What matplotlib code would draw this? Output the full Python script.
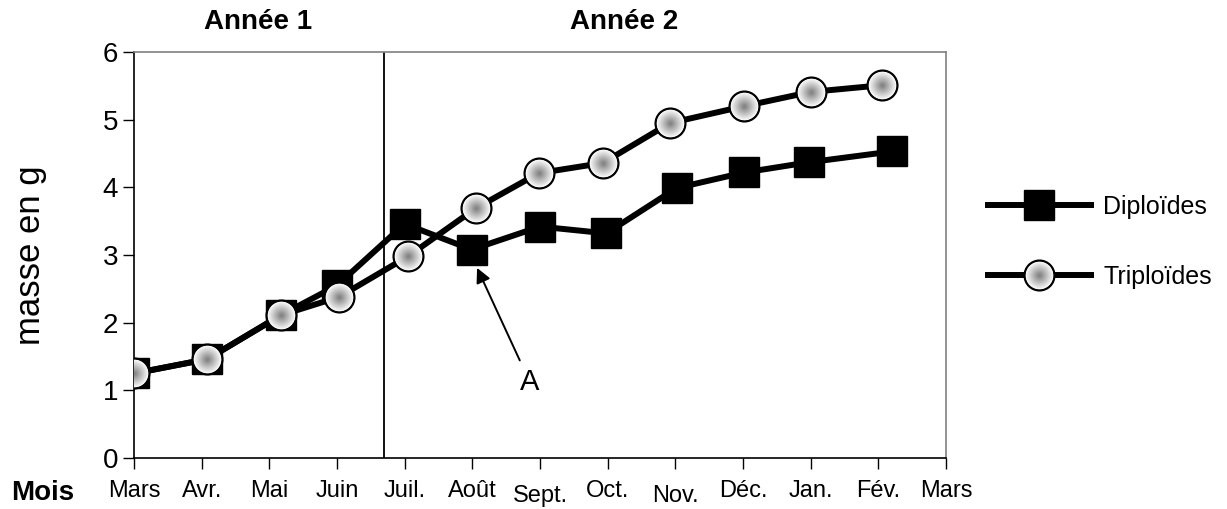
import numpy as np
import matplotlib
matplotlib.use("Agg")
import matplotlib.pyplot as plt
from matplotlib.legend_handler import HandlerTuple

plt.rcParams['font.family'] = ['Liberation Sans', 'DejaVu Sans']

# months on the x axis (tick positions 0..12)
mois = ['Mars', 'Avr.', 'Mai', 'Juin', 'Juil.', 'Août', 'Sept.', 'Oct.',
        'Nov.', 'Déc.', 'Jan.', 'Fév.', 'Mars']

# diploid series (x in months from first March, mass in g)
x_diplo = [0, 1.08, 2.17, 3.0, 4.0, 4.99, 6.0, 6.98, 8.02, 9.02, 9.97, 11.2]
m_diplo = [1.25, 1.46, 2.11, 2.55, 3.46, 3.08, 3.42, 3.32, 3.99, 4.22, 4.37, 4.53]

# triploid series
x_tri = [0, 1.08, 2.17, 3.03, 4.05, 5.05, 5.98, 6.93, 7.92, 9.02, 10.0, 11.06]
m_tri = [1.25, 1.46, 2.11, 2.38, 2.98, 3.69, 4.21, 4.36, 4.95, 5.2, 5.41, 5.51]

annees = ['Année 1', 'Année 2']
annees_x = [1.83, 7.25]
separation = 3.69

fig = plt.figure(figsize=(12.27, 5.09), dpi=100)
ax = fig.add_axes([0.1092, 0.1002, 0.6618, 0.7976])

# diploids : black squares
l_dip, = ax.plot(x_diplo, m_diplo, color='black', lw=4.3, marker='s', ms=22,
                 mfc='black', mec='black', zorder=3)

# triploids : circles with a radial grey gradient
l_tri, = ax.plot(x_tri, m_tri, color='black', lw=4.3, marker='o', ms=21.5,
                 mfc='white', mec='black', mew=1.6, zorder=4)
grad = []
n = 14
for k in range(n):
    t = k / (n - 1)
    s = 19.5 * (1 - t) + 2 * t
    g = 0.96 * (1 - t) + 0.52 * t
    h, = ax.plot(x_tri, m_tri, linestyle='none', marker='o', ms=s,
                 mfc=(g, g, g), mec='none', zorder=5)
    grad.append(h)

ax.axvline(separation, color='black', lw=1.3, zorder=2)

ax.set_xlim(0, 12)
ax.set_ylim(0, 6)
ax.set_xticks(range(13))
ax.set_xticklabels(mois)
ax.set_yticks(range(7))

ax.tick_params(axis='y', direction='out', length=8, width=1, pad=3.5, labelsize=20)
ax.tick_params(axis='x', direction='out', length=8, width=1, pad=7.5, labelsize=17)
for i in (6, 8):
    ax.xaxis.get_major_ticks()[i].set_pad(11.5)

for side in ('left', 'bottom'):
    ax.spines[side].set_color('black')
    ax.spines[side].set_linewidth(1.2)
for side in ('top', 'right'):
    ax.spines[side].set_color('#808080')
    ax.spines[side].set_linewidth(1.2)

ax.set_ylabel('masse en g', fontsize=25)
ax.yaxis.set_label_coords(-0.128, 0.5)
ax.yaxis.label.set_verticalalignment('center')

ax.text(-0.113, -0.085, 'Mois', transform=ax.transAxes, fontsize=20,
        fontweight='bold', ha='center', va='center')

for lab, xa in zip(annees, annees_x):
    ax.text(xa, 1.074, lab, transform=ax.get_xaxis_transform(), fontsize=20,
            fontweight='bold', ha='center', va='center')

ax.annotate('A', xy=(5.07, 2.81), xytext=(5.85, 1.12), fontsize=21,
            ha='center', va='center',
            arrowprops=dict(arrowstyle='-|>', color='black', lw=1.4,
                            mutation_scale=22, shrinkA=4, shrinkB=0))

ax.legend([l_dip, tuple([l_tri] + grad)], ['Diploïdes', 'Triploïdes'],
          handler_map={tuple: HandlerTuple(ndivide=1, pad=0)},
          loc='center left', bbox_to_anchor=(0.787, 0.525), bbox_transform=fig.transFigure,
          frameon=False, fontsize=18, handlelength=4.1, handletextpad=0.5,
          labelspacing=1.85, numpoints=1)

fig.savefig('out.png', dpi=100)
